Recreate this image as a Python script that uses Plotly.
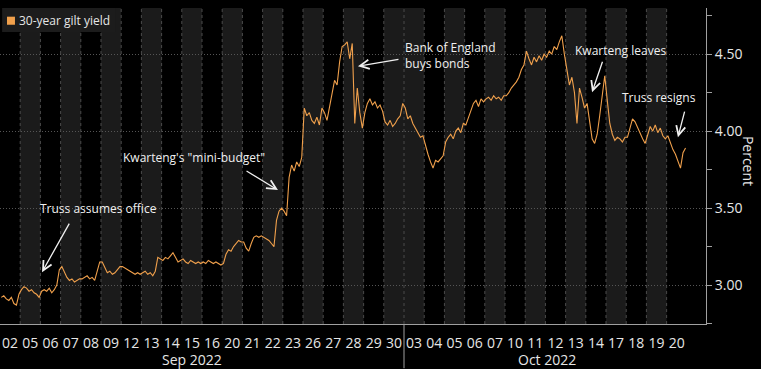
import plotly.graph_objects as go

# ---------------- data ----------------
sep_days = ["02", "05", "06", "07", "08", "09", "12", "13", "14", "15",
            "16", "20", "21", "22", "23", "26", "27", "28", "29", "30"]
oct_days = ["03", "04", "05", "06", "07", "10", "11", "12", "13", "14",
            "17", "18", "19", "20"]
month_labels = ["Sep 2022", "Oct 2022"]
series_name = "30-year gilt yield"

# intraday readings (8 per trading day), percent
gilt_30y = [
    [2.92, 2.93, 2.91, 2.90, 2.92, 2.88, 2.87, 2.94],  # Sep 02
    [2.97, 2.99, 2.98, 2.96, 2.97, 2.95, 2.94, 2.92],  # Sep 05
    [2.96, 2.97, 2.96, 2.98, 2.95, 2.97, 3.00, 3.10],  # Sep 06
    [3.12, 3.08, 3.05, 3.03, 3.04, 3.02, 3.03, 3.04],  # Sep 07
    [3.04, 3.05, 3.06, 3.04, 3.05, 3.03, 3.10, 3.15],  # Sep 08
    [3.15, 3.12, 3.08, 3.09, 3.07, 3.08, 3.10, 3.12],  # Sep 09
    [3.12, 3.11, 3.10, 3.09, 3.08, 3.07, 3.08, 3.07],  # Sep 12
    [3.08, 3.09, 3.07, 3.08, 3.06, 3.09, 3.18, 3.17],  # Sep 13
    [3.16, 3.18, 3.17, 3.19, 3.21, 3.18, 3.15, 3.16],  # Sep 14
    [3.17, 3.15, 3.14, 3.16, 3.15, 3.14, 3.15, 3.14],  # Sep 15
    [3.15, 3.14, 3.16, 3.15, 3.14, 3.15, 3.14, 3.13],  # Sep 16
    [3.14, 3.20, 3.23, 3.22, 3.25, 3.27, 3.29, 3.28],  # Sep 20
    [3.28, 3.24, 3.22, 3.27, 3.31, 3.32, 3.31, 3.32],  # Sep 21
    [3.31, 3.30, 3.29, 3.27, 3.25, 3.42, 3.48, 3.50],  # Sep 22
    [3.48, 3.45, 3.70, 3.78, 3.74, 3.80, 3.77, 3.83],  # Sep 23
    [4.15, 4.10, 4.12, 4.07, 4.05, 4.09, 4.04, 4.15],  # Sep 26
    [4.12, 4.07, 4.15, 4.25, 4.33, 4.30, 4.45, 4.55],  # Sep 27
    [4.56, 4.58, 4.47, 4.57, 4.05, 4.28, 4.12, 4.02],  # Sep 28
    [4.12, 4.18, 4.21, 4.17, 4.19, 4.15, 4.17, 4.13],  # Sep 29
    [4.06, 4.04, 4.07, 4.03, 4.05, 4.08, 4.10, 4.18],  # Sep 30
    [4.15, 4.08, 4.10, 4.05, 4.02, 3.98, 3.96, 3.97],  # Oct 03
    [3.90, 3.85, 3.80, 3.76, 3.81, 3.80, 3.82, 3.84],  # Oct 04
    [3.93, 3.96, 3.98, 3.95, 4.00, 4.02, 3.99, 4.05],  # Oct 05
    [4.04, 4.09, 4.13, 4.18, 4.20, 4.16, 4.21, 4.19],  # Oct 06
    [4.21, 4.22, 4.20, 4.23, 4.21, 4.22, 4.20, 4.23],  # Oct 07
    [4.23, 4.25, 4.28, 4.30, 4.32, 4.35, 4.40, 4.43],  # Oct 10
    [4.52, 4.47, 4.43, 4.48, 4.45, 4.49, 4.46, 4.50],  # Oct 11
    [4.48, 4.52, 4.50, 4.55, 4.53, 4.58, 4.62, 4.50],  # Oct 12
    [4.40, 4.30, 4.35, 4.25, 4.05, 4.28, 4.22, 4.15],  # Oct 13
    [4.18, 4.05, 3.95, 3.92, 3.98, 4.10, 4.25, 4.36],  # Oct 14
    [4.20, 4.05, 3.98, 3.94, 3.96, 3.95, 3.93, 3.96],  # Oct 17
    [3.96, 4.02, 4.08, 4.06, 4.02, 3.99, 3.95, 3.92],  # Oct 18
    [3.98, 4.03, 4.00, 4.04, 3.99, 4.02, 3.97, 3.95],  # Oct 19
    [3.97, 3.92, 3.88, 3.85, 3.80, 3.76, 3.86, 3.89],  # Oct 20
]
y_ticks = [3.0, 3.5, 4.0, 4.5]
y_tick_labels = ["3.00", "3.50", "4.00", "4.50"]

# ---------------- build ----------------
day_labels = sep_days + oct_days
n_days = len(day_labels)
xs, ys = [], []
for d, vals in enumerate(gilt_30y):
    n = len(vals)
    for k, v in enumerate(vals):
        xs.append(d + (k + 0.5) / n)
        ys.append(v)

ORANGE = "#f0a04c"
TEXT = "#e6e6e6"
FONT = "Open Sans"

fig = go.Figure()
fig.add_trace(go.Scatter(x=xs, y=ys, mode="lines", name=series_name,
                         line=dict(color=ORANGE, width=1.1), showlegend=False))

shapes = []
# alternating day shading (restarts each month)
for i in range(len(sep_days)):
    if i % 2 == 1:
        shapes.append(dict(type="rect", xref="x", yref="paper", x0=i, x1=i + 1,
                           y0=0, y1=1, fillcolor="#1b1b1b", line_width=0, layer="below"))
off = len(sep_days)
for i in range(len(oct_days)):
    if i % 2 == 0:
        shapes.append(dict(type="rect", xref="x", yref="paper", x0=off + i, x1=off + i + 1,
                           y0=0, y1=1, fillcolor="#1b1b1b", line_width=0, layer="below"))
# dashed day boundaries
for b in range(1, n_days):
    shapes.append(dict(type="line", xref="x", yref="paper", x0=b, x1=b, y0=0, y1=1,
                       line=dict(color="#4a4a4a", width=1, dash="3px,3px"), layer="below"))
# month separator below axis
shapes.append(dict(type="line", xref="x", yref="paper", x0=off, x1=off, y0=0, y1=-0.14,
                   line=dict(color="#a0a0a0", width=1)))
# legend box + square swatch
shapes.append(dict(type="rect", xref="paper", yref="paper", x0=0.003, x1=0.163,
                   y0=0.924, y1=1.0, fillcolor="#1c1c1c", line_width=0))
shapes.append(dict(type="rect", xref="paper", yref="paper", x0=0.0099, x1=0.0212,
                   y0=0.947, y1=0.9725, fillcolor=ORANGE, line_width=0))

annotations = [
    dict(xref="paper", yref="paper", x=0.024, y=0.962, text=series_name, showarrow=False,
         xanchor="left", yanchor="middle", font=dict(size=12, color=TEXT, family=FONT)),
    dict(xref="x", yref="paper", x=9.5, y=-0.111, text=month_labels[0], showarrow=False,
         yanchor="middle", font=dict(size=14, color=TEXT, family=FONT)),
    dict(xref="x", yref="paper", x=27.08, y=-0.111, text=month_labels[1], showarrow=False,
         yanchor="middle", font=dict(size=14, color=TEXT, family=FONT)),
    dict(xref="paper", yref="paper", x=1.06, y=0.515, text="Percent", showarrow=False,
         textangle=90, xanchor="center", yanchor="middle",
         font=dict(size=14, color=TEXT, family=FONT)),
]

labels = [
    (4.9, 3.50, "Truss assumes office", "center"),
    (9.6, 3.83, "Kwarteng's \"mini-budget\"", "center"),
    (19.95, 4.494, "Bank of England<br>buys bonds", "left"),
    (30.7, 4.526, "Kwarteng leaves", "center"),
    (32.62, 4.221, "Truss resigns", "center"),
]
for x, y, t, anc in labels:
    annotations.append(dict(xref="x", yref="y", x=x, y=y, text=t, showarrow=False,
                            xanchor=anc, yanchor="middle", align="left",
                            font=dict(size=12, color="#f0f0f0", family=FONT)))

arrows = [
    ((3.47, 3.409), (2.08, 3.084)),
    ((12.13, 3.747), (13.76, 3.617)),
    ((19.8, 4.468), (17.72, 4.422)),
    ((29.85, 4.461), (29.31, 4.253)),
    ((33.91, 4.136), (33.56, 3.961)),
]
for (ax, ay), (x, y) in arrows:
    annotations.append(dict(xref="x", yref="y", axref="x", ayref="y", x=x, y=y, ax=ax, ay=ay,
                            text="", showarrow=True, arrowhead=5, arrowsize=1.4,
                            arrowwidth=1.3, arrowcolor="#f0f0f0", standoff=0, startstandoff=0))

fig.update_layout(
    width=761, height=369,
    margin=dict(l=0, r=55, t=8, b=45),
    paper_bgcolor="black", plot_bgcolor="black",
    font=dict(family=FONT, color=TEXT),
    shapes=shapes, annotations=annotations,
    xaxis=dict(range=[0, 34.95], tickmode="array",
               tickvals=[d + 0.5 for d in range(n_days)], ticktext=day_labels,
               showgrid=False, zeroline=False, showline=True, linecolor="#a0a0a0",
               ticks="outside", ticklen=6, tickcolor="rgba(0,0,0,0)",
               tickfont=dict(size=14, color=TEXT, family=FONT)),
    yaxis=dict(range=[2.747, 4.80], side="right", tickmode="array",
               tickvals=y_ticks, ticktext=y_tick_labels,
               showgrid=True, gridcolor="#555555", griddash="1px,2px", gridwidth=1,
               zeroline=False, showline=True, linecolor="#a0a0a0",
               ticks="outside", ticklen=5, tickcolor="#a0a0a0",
               minor=dict(tickvals=[2.75, 3.25, 3.75, 4.25, 4.75], ticks="outside",
                          ticklen=5, tickcolor="#a0a0a0", showgrid=False),
               tickfont=dict(size=14, color=TEXT, family=FONT)),
)

fig.write_html("out.html", config={"displayModeBar": False},
               post_script="document.body.style.margin='0';document.body.style.background='black';")
